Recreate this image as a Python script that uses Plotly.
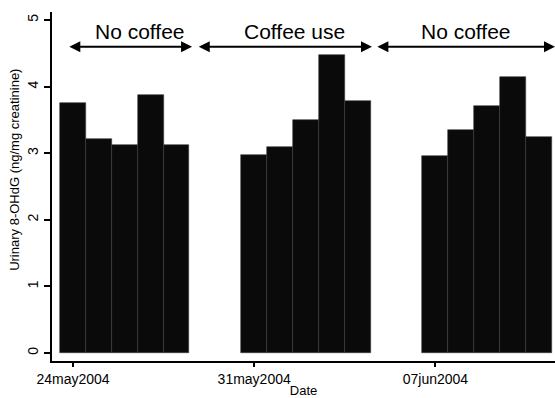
import pandas as pd
import plotly.graph_objects as go

# Data
dates = ["2004-05-24", "2004-05-25", "2004-05-26", "2004-05-27", "2004-05-28",
         "2004-05-31", "2004-06-01", "2004-06-02", "2004-06-03", "2004-06-04",
         "2004-06-07", "2004-06-08", "2004-06-09", "2004-06-10", "2004-06-11"]
values = [3.75, 3.21, 3.13, 3.87, 3.12,
          2.98, 3.10, 3.50, 4.48, 3.79,
          2.96, 3.35, 3.71, 4.15, 3.24]
tick_dates = ["2004-05-24", "2004-05-31", "2004-06-07"]
tick_labels = ["24may2004", "31may2004", "07jun2004"]
period_labels = ["No coffee", "Coffee use", "No coffee"]

base = pd.Timestamp("2004-05-24")
x = [(pd.Timestamp(d) - base).days for d in dates]
tickvals = [(pd.Timestamp(d) - base).days for d in tick_dates]

# arrow spans in day offsets from 24 May
arrow_spans = [(-0.2, 4.6), (4.8, 11.55), (11.7, 18.62)]
label_x = [2.6, 8.55, 15.2]

fig = go.Figure()
fig.add_trace(go.Bar(x=x, y=values, width=1.0,
                     marker=dict(color="#0a0a0a", line=dict(width=0.6, color="#3a3a3a")),
                     showlegend=False))

font_family = "Liberation Sans, Arial, sans-serif"
annotations = []
for (a, b), lx, lab in zip(arrow_spans, label_x, period_labels):
    annotations.append(dict(x=b, y=4.6, ax=a, ay=4.6, xref="x", yref="y", axref="x", ayref="y",
                            text="", showarrow=True, arrowhead=2, startarrowhead=2,
                            arrowside="end+start", arrowsize=1.1, startarrowsize=1.1,
                            arrowwidth=2, arrowcolor="black"))
    annotations.append(dict(x=lx, y=4.82, xref="x", yref="y", text=lab, showarrow=False,
                            font=dict(size=21, color="black", family=font_family)))

# y-axis title (placed slightly above centre, as in the reference)
annotations.append(dict(x=0, xref="paper", xanchor="center", xshift=-37, y=2.75, yref="y",
                        text="Urinary 8-OHdG (ng/mg creatinine)", textangle=-90, showarrow=False,
                        font=dict(size=13, color="black", family=font_family)))

fig.update_layout(
    width=555, height=398,
    margin=dict(l=52, r=0, t=12, b=37),
    paper_bgcolor="white", plot_bgcolor="white",
    bargap=0,
    font=dict(family=font_family, color="black", size=13),
    annotations=annotations,
    xaxis=dict(range=[-0.81, 18.62], tickvals=tickvals, ticktext=tick_labels,
               automargin=False,
               showline=True, linecolor="black", linewidth=2, ticks="outside",
               ticklen=4, tickwidth=1.5, tickcolor="black", showgrid=False, zeroline=False,
               tickfont=dict(size=14, color="black"),
               title=dict(text="Date", font=dict(size=13), standoff=0)),
    yaxis=dict(range=[-0.12, 5.12], tickvals=[0, 1, 2, 3, 4, 5],
               automargin=False,
               showline=True, linecolor="black", linewidth=2, ticks="outside",
               ticklen=6, tickwidth=1.5, tickcolor="black", showgrid=False, zeroline=False,
               tickangle=-90, tickfont=dict(size=14, color="black")),
)

fig.write_html("out.html", config={"displayModeBar": False},
               post_script="document.body.style.margin='0';")
